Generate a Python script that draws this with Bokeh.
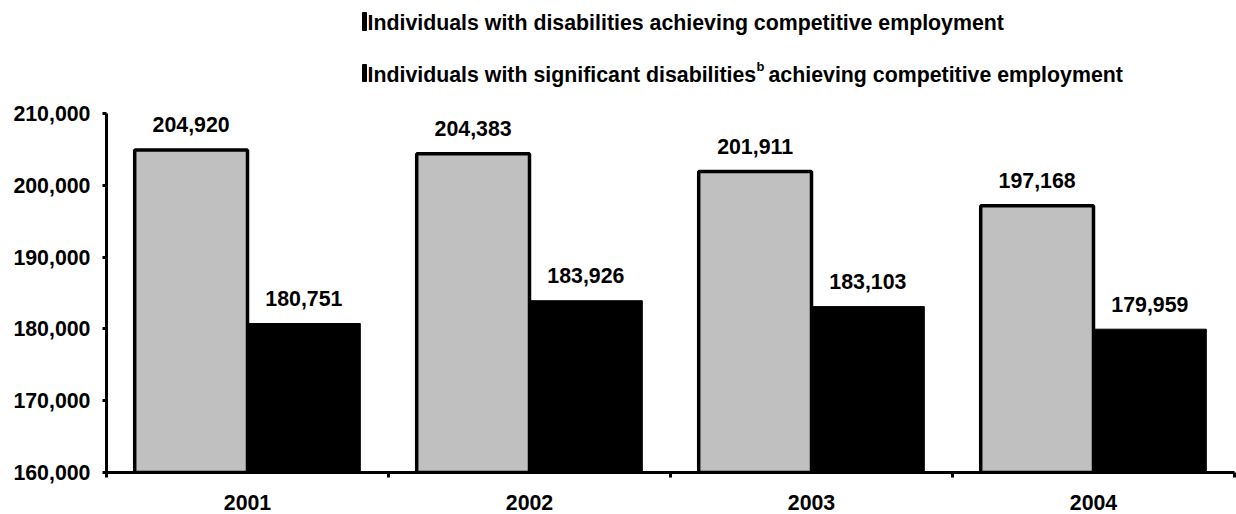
from bokeh.plotting import figure
from bokeh.models import ColumnDataSource, Range1d, FixedTicker, NumeralTickFormatter, Label, BoxAnnotation
from bokeh.transform import dodge
from bokeh.core.properties import value
from bokeh.embed import file_html
from bokeh.resources import INLINE

# ---- data ----
years = ["2001", "2002", "2003", "2004"]
all_disabilities = [204920, 204383, 201911, 197168]
significant_disabilities = [180751, 183926, 183103, 179959]
y_ticks = [160000, 170000, 180000, 190000, 200000, 210000]
legend_line1 = "Individuals with disabilities achieving competitive employment"
legend_line2_a = "Individuals with significant disabilities"
legend_line2_sup = "b"
legend_line2_b = "achieving competitive employment"

FONT = "Liberation Sans"
FS = "16pt"
GRAY = "#c0c0c0"
TXT_SHIFT = 8  # correction for text baseline placement (px)

# geometry (pixels): axis area 106..1234 x 113..472; frame extends to top for the legend
FR_L, FR_R, AX_T, FR_B = 106, 1234, 113, 472
Y0, Y1 = y_ticks[0], y_ticks[-1]
NX = len(years)

def dx(px):
    return (px - FR_L) / (FR_R - FR_L) * NX

def dy(py):
    return Y0 + (FR_B - py) / (FR_B - AX_T) * (Y1 - Y0)

x_centers = [i + 0.5 for i in range(NX)]
src = ColumnDataSource(dict(
    x=x_centers,
    all=all_disabilities,
    sig=significant_disabilities,
    all_lbl=[f"{v:,}" for v in all_disabilities],
    sig_lbl=[f"{v:,}" for v in significant_disabilities],
))

p = figure(width=1236, height=514,
           x_range=Range1d(0, NX), y_range=Range1d(Y0, dy(0)),
           output_backend="svg", toolbar_location=None,
           min_border_left=FR_L, min_border_right=1236 - FR_R,
           min_border_top=0, min_border_bottom=514 - FR_B)
p.outline_line_color = None
p.xgrid.visible = False
p.ygrid.visible = False
p.background_fill_color = "white"
p.border_fill_color = "white"

p.vbar(x=dodge("x", -0.2, range=p.x_range), top="all", bottom=Y0, width=0.4,
       fill_color=GRAY, line_color="black", line_width=3.5, source=src)
p.vbar(x=dodge("x", 0.2, range=p.x_range), top="sig", bottom=Y0, width=0.4,
       fill_color="black", line_color="black", line_width=1, source=src)

for col, off in (("all", -0.2), ("sig", 0.2)):
    p.text(x=dodge("x", off, range=p.x_range), y=col, text=col + "_lbl", source=src,
           text_align="center", text_baseline="alphabetic", y_offset=-17 - TXT_SHIFT,
           text_font=value(FONT), text_font_style="bold", text_font_size=FS, text_color="black")

# x axis: labels at centers, tick marks at category boundaries
xa = p.xaxis[0]
xa.ticker = FixedTicker(ticks=x_centers, minor_ticks=list(range(NX + 1)))
xa.major_label_overrides = {xc: yr for xc, yr in zip(x_centers, years)}
xa.major_tick_out = 0
xa.major_tick_in = 0
xa.minor_tick_out = 5
xa.minor_tick_in = 0
xa.minor_tick_line_width = 3
xa.minor_tick_line_color = "black"
xa.axis_line_width = 3
xa.axis_line_color = "black"
xa.major_label_standoff = 17
xa.major_label_text_font = FONT
xa.major_label_text_font_style = "bold"
xa.major_label_text_font_size = FS
xa.major_label_text_color = "black"

ya = p.yaxis[0]
ya.ticker = FixedTicker(ticks=y_ticks)
ya.bounds = (Y0, Y1)
ya.formatter = NumeralTickFormatter(format="0,0")
ya.major_tick_out = 4
ya.major_tick_in = 0
ya.major_tick_line_width = 3
ya.major_tick_line_color = "black"
ya.minor_tick_line_color = None
ya.axis_line_width = 3
ya.axis_line_color = "black"
ya.major_label_standoff = 12
ya.major_label_text_font = FONT
ya.major_label_text_font_style = "bold"
ya.major_label_text_font_size = FS
ya.major_label_text_color = "black"

# legend (manual, to allow the superscript)
def lab(txt, px, py, size=FS):
    p.add_layout(Label(x=dx(px), y=dy(py - TXT_SHIFT), text=txt,
                       text_font=FONT, text_font_style="bold", text_font_size=size,
                       text_color="black", text_baseline="alphabetic", text_align="left"))

lab(legend_line1, 367, 30)
lab(legend_line2_a, 367, 82)
lab(legend_line2_sup, 756, 74, "13px")
lab(legend_line2_b, 768, 82)

p.add_layout(BoxAnnotation(left=dx(362), right=dx(366), top=dy(12), bottom=dy(30),
                           fill_color="black", fill_alpha=1, line_color="black", line_alpha=1,
                           editable=False))
p.add_layout(BoxAnnotation(left=dx(362), right=dx(366), top=dy(64), bottom=dy(81),
                           fill_color="black", fill_alpha=1, line_color="black", line_alpha=1,
                           editable=False))

open("out.html", "w").write(file_html(p, INLINE))
